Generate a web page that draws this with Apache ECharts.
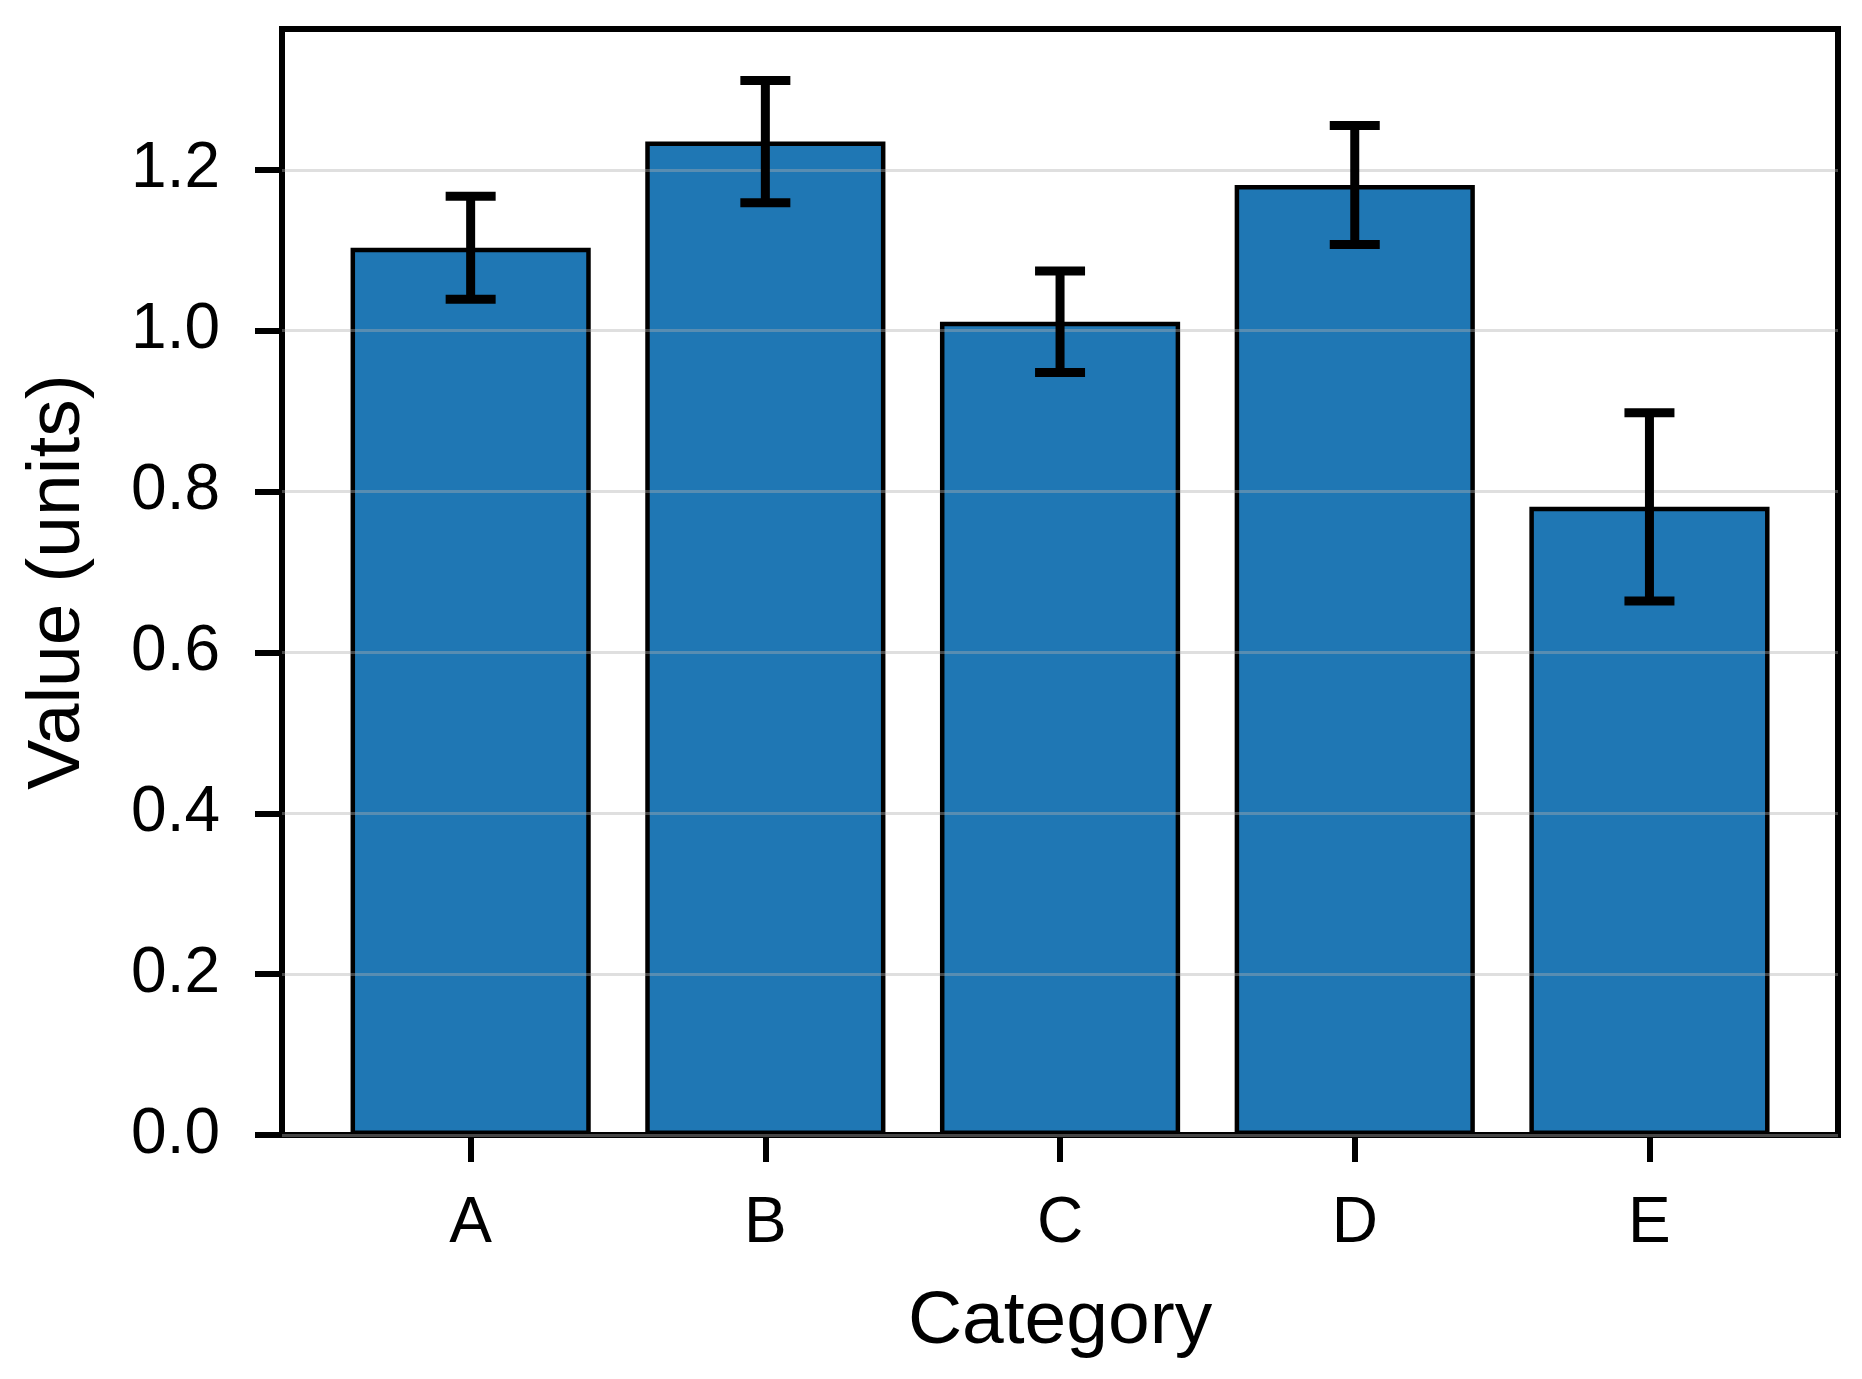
<!DOCTYPE html>
<html>
  <head>
    <meta charset="utf-8" />
    <title>Value by Category</title>
    <script src="https://cdn.jsdelivr.net/npm/echarts@6.0.0/dist/echarts.min.js"></script>
    <style>
      html, body { margin: 0; padding: 0; background: #fff; }
    </style>
  </head>
  <body>
    <div id="main" style="width: 1862px; height: 1379px"></div>
    <script type="text/javascript">
      // data
      var categories = ["A", "B", "C", "D", "E"];
      var values = [1.103, 1.235, 1.011, 1.181, 0.781];
      var errors = [0.064, 0.076, 0.063, 0.074, 0.117];
      var yTicks = [0, 0.2, 0.4, 0.6, 0.8, 1.0, 1.2];
      var yMax = 1.375;

      var myChart = echarts.init(document.getElementById("main"));
      var font = "Liberation Sans, Arial, sans-serif";

      var errData = values.map(function (v, i) {
        return [i, v, errors[i]];
      });

      var option = {
        backgroundColor: "#fff",
        animation: false,
        grid: [
          // frame box (spines)
          { left: 282, right: 24, top: 29, bottom: 244, show: true, borderColor: "#000", borderWidth: 6, backgroundColor: "transparent" },
          // inner area for the bars (matplotlib x margins)
          { left: 323.3, right: 65.2, top: 29, bottom: 244 },
        ],
        xAxis: [
          { type: "value", gridIndex: 0, min: 0, max: 1, show: false },
          {
            type: "category",
            gridIndex: 1,
            data: categories,
            boundaryGap: true,
            axisLine: { show: false },
            axisTick: { show: true, alignWithLabel: true, length: 27, lineStyle: { color: "#000", width: 6 } },
            axisLabel: { color: "#000", fontSize: 64, fontFamily: font, margin: 57 },
            splitLine: { show: false },
            name: "Category",
            nameLocation: "middle",
            nameGap: 150,
            nameTextStyle: { color: "#000", fontSize: 75, fontFamily: font },
          },
        ],
        yAxis: [
          {
            type: "value",
            gridIndex: 0,
            min: 0,
            max: yMax,
            z: 3,
            axisLine: { show: false },
            axisTick: { show: true, length: 27, customValues: yTicks, lineStyle: { color: "#000", width: 6 } },
            axisLabel: {
              color: "#000",
              fontSize: 64,
              fontFamily: font,
              margin: 62,
              customValues: yTicks,
              formatter: function (v) { return v.toFixed(1); },
            },
            splitLine: { show: true, lineStyle: { color: "rgba(176,176,176,0.4)", width: 3 } },
            name: "Value (units)",
            nameLocation: "middle",
            nameGap: 186,
            nameTextStyle: { color: "#000", fontSize: 75, fontFamily: font },
          },
          { type: "value", gridIndex: 1, min: 0, max: yMax, show: false, splitLine: { show: false } },
        ],
        series: [
          {
            type: "bar",
            xAxisIndex: 1,
            yAxisIndex: 1,
            data: values,
            barWidth: "81.5%",
            z: 2,
            itemStyle: { color: "#1f77b4", borderColor: "#000", borderWidth: 4.5 },
          },
          {
            type: "custom",
            xAxisIndex: 1,
            yAxisIndex: 1,
            z: 5,
            data: errData,
            renderItem: function (params, api) {
              var x = api.value(0);
              var v = api.value(1);
              var e = api.value(2);
              var top = api.coord([x, v + e]);
              var bot = api.coord([x, v - e]);
              var half = 25;
              var style = { stroke: "#000", lineWidth: 9 };
              return {
                type: "group",
                children: [
                  { type: "line", shape: { x1: top[0], y1: top[1], x2: bot[0], y2: bot[1] }, style: style },
                  { type: "line", shape: { x1: top[0] - half, y1: top[1], x2: top[0] + half, y2: top[1] }, style: style },
                  { type: "line", shape: { x1: bot[0] - half, y1: bot[1], x2: bot[0] + half, y2: bot[1] }, style: style },
                ],
              };
            },
          },
        ],
      };

      myChart.setOption(option);
    </script>
  </body>
</html>
